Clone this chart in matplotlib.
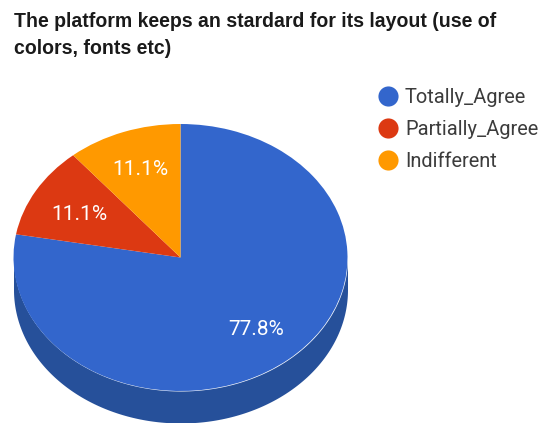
import matplotlib
matplotlib.use("Agg")
import matplotlib.pyplot as plt
import numpy as np
from matplotlib.lines import Line2D

title = "The platform keeps an stardard for its layout (use of\ncolors, fonts etc)"
categories = ["Totally_Agree", "Partially_Agree", "Indifferent"]
values = [7, 1, 1]
colors = ["#3366cc", "#dc3912", "#ff9900"]
side_color = "#26509a"

W, H = 539, 423
cx, cy = 180.5, 257.5  # pie centre in pixels from the top left
rx, ry = 167, 133.5
depth = 32 / ry

fig = plt.figure(figsize=(W / 100, H / 100), dpi=100, facecolor="white")
ax = fig.add_axes([0, 0, 1, 1])

# the lower rim of the tilted pie, only the front half is visible
t = np.linspace(np.pi, 2 * np.pi, 200)
ax.fill_between(np.cos(t), np.sin(t), np.sin(t) - depth, color=side_color, lw=0)

_, _, pct_texts = ax.pie(values, colors=colors, startangle=90, counterclock=False, radius=1,
                         autopct="%.1f%%", pctdistance=0.7, wedgeprops={"linewidth": 0},
                         textprops={"color": "white", "fontsize": 15, "family": "Roboto"})
# the red slice label sits a little lower than the others
pct_texts[1].set_y(pct_texts[1].get_position()[1] - 0.025)

# pie() resets the limits, so the unit circle is stretched to an ellipse afterwards
ax.set_aspect("auto")
ax.set_xlim(-cx / rx, (W - cx) / rx)
ax.set_ylim((cy - H) / ry, cy / ry)
ax.axis("off")

fig.text(14 / W, 1 - 12 / H, title, family="Liberation Sans", fontweight="bold",
         fontsize=14.05, color="#1a1a1a", va="top", linespacing=1.54)

handles = [Line2D([], [], linestyle="", marker="o", markersize=14.5, color=c, markeredgewidth=0)
           for c in colors]
fig.legend(handles, categories, loc="upper left", bbox_to_anchor=(378 / W, 1 - 88 / H),
           frameon=False, prop={"family": "Roboto", "size": 14.4}, labelcolor="#3c3c3c",
           handletextpad=0.35, labelspacing=0.66, borderpad=0, borderaxespad=0,
           handlelength=1)

fig.savefig("out.png", dpi=100)
